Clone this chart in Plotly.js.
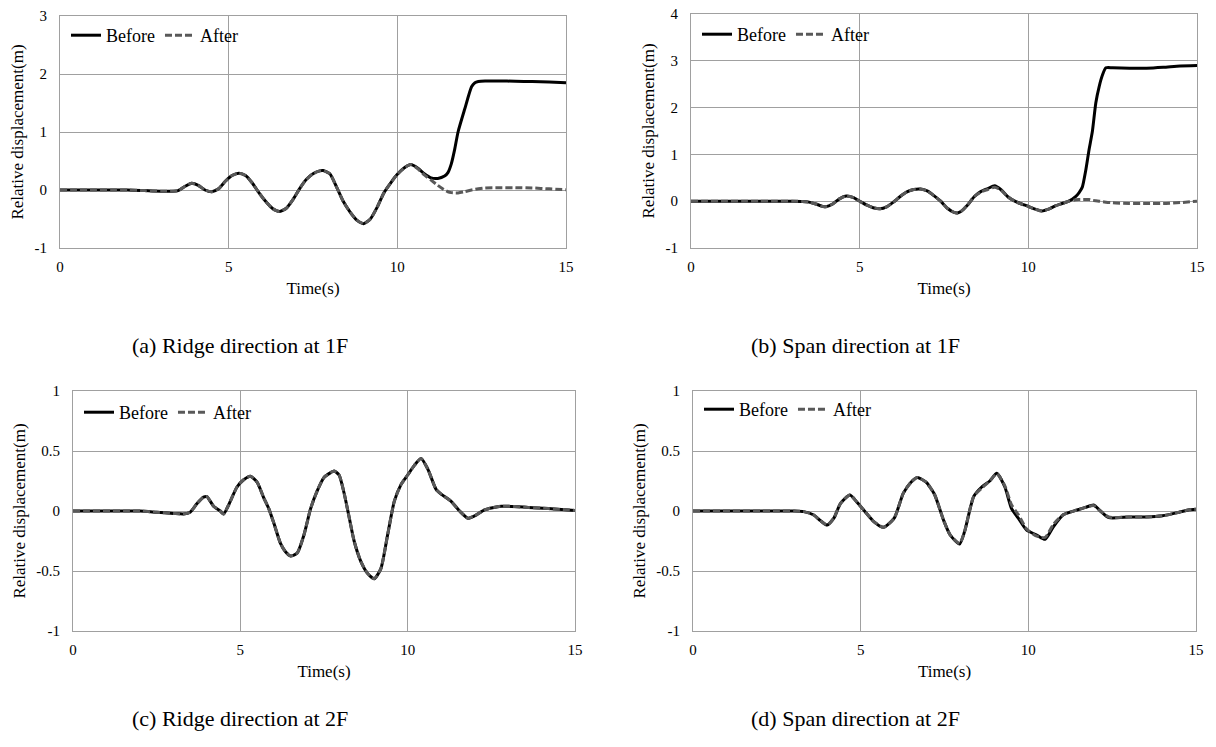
<!DOCTYPE html>
<html>
<head>
<meta charset="utf-8">
<script src="https://cdn.plot.ly/plotly-3.0.1.min.js"></script>
<style>html,body{margin:0;padding:0;background:#fff;}#chart{width:1216px;height:747px;}</style>
</head>
<body>
<div id="chart"></div>
<script>
// ---------- data ----------
const seriesNames = ["Before", "After"];
const captions = ["(a) Ridge direction at 1F", "(b) Span direction at 1F", "(c) Ridge direction at 2F", "(d) Span direction at 2F"];

// (a) Ridge direction at 1F
const tA = [0,0.5,1,1.5,2,2.5,3,3.3,3.5,3.7,3.9,4.1,4.3,4.5,4.7,4.9,5.1,5.3,5.5,5.7,5.9,6.1,6.3,6.5,6.7,6.9,7.1,7.3,7.5,7.7,7.8,8.0,8.2,8.4,8.6,8.8,9.0,9.2,9.4,9.6,9.8,10.0,10.2,10.4,10.6,10.8,11.0,11.2,11.4,11.5,11.6,11.7,11.8,12.0,12.2,12.3,12.4,12.6,13,13.5,14,14.5,15];
const beforeA = [0,0,0,0,0,-0.01,-0.02,-0.02,-0.01,0.06,0.115,0.08,0.0,-0.03,0.02,0.15,0.25,0.29,0.25,0.12,-0.05,-0.2,-0.32,-0.37,-0.32,-0.17,0.02,0.18,0.28,0.33,0.335,0.28,0.05,-0.2,-0.38,-0.52,-0.58,-0.5,-0.3,-0.05,0.12,0.27,0.38,0.44,0.38,0.28,0.21,0.2,0.24,0.3,0.45,0.7,1.0,1.4,1.78,1.85,1.87,1.88,1.88,1.875,1.87,1.86,1.85];
const afterA  = [0,0,0,0,0,-0.01,-0.02,-0.02,-0.01,0.06,0.115,0.08,0.0,-0.03,0.02,0.15,0.25,0.29,0.25,0.12,-0.05,-0.2,-0.32,-0.37,-0.32,-0.17,0.02,0.18,0.28,0.33,0.335,0.28,0.05,-0.2,-0.38,-0.52,-0.58,-0.5,-0.3,-0.05,0.12,0.27,0.38,0.44,0.37,0.26,0.17,0.08,0.0,-0.03,-0.045,-0.05,-0.05,-0.03,0.0,0.01,0.02,0.035,0.04,0.04,0.035,0.02,0.005];

// (b) Span direction at 1F
const tB = [0,0.5,1,1.5,2,2.5,3,3.3,3.5,3.7,3.9,4.0,4.2,4.4,4.6,4.8,5.0,5.2,5.4,5.6,5.8,6.0,6.2,6.4,6.6,6.8,7.0,7.2,7.4,7.6,7.8,7.9,8.0,8.2,8.4,8.6,8.8,9.0,9.2,9.4,9.6,9.8,10.0,10.2,10.4,10.6,10.8,11.0,11.2,11.4,11.5,11.6,11.7,11.8,11.9,12.0,12.1,12.2,12.3,12.5,13,13.5,14,14.5,15];
const beforeB = [0,0,0,0,0,0,0,-0.005,-0.02,-0.06,-0.11,-0.12,-0.06,0.05,0.11,0.08,0.0,-0.08,-0.14,-0.16,-0.12,-0.02,0.1,0.2,0.25,0.26,0.22,0.12,0.0,-0.15,-0.24,-0.25,-0.22,-0.08,0.1,0.21,0.27,0.33,0.24,0.09,0.0,-0.06,-0.11,-0.17,-0.21,-0.17,-0.1,-0.05,0.0,0.1,0.18,0.3,0.65,1.1,1.5,2.1,2.45,2.7,2.85,2.85,2.84,2.84,2.86,2.89,2.9];
const afterB  = [0,0,0,0,0,0,0,-0.005,-0.02,-0.06,-0.11,-0.12,-0.06,0.05,0.11,0.08,0.0,-0.08,-0.14,-0.16,-0.12,-0.02,0.1,0.2,0.25,0.26,0.22,0.12,0.0,-0.15,-0.24,-0.25,-0.22,-0.08,0.1,0.2,0.25,0.3,0.23,0.09,0.0,-0.06,-0.11,-0.17,-0.21,-0.17,-0.1,-0.05,0.0,0.03,0.035,0.035,0.035,0.035,0.02,0.01,0.0,-0.01,-0.02,-0.035,-0.05,-0.05,-0.05,-0.03,0.0];

// (c) Ridge direction at 2F
const tC = [0,0.5,1,1.5,2,2.5,3,3.3,3.5,3.7,3.9,4.0,4.2,4.4,4.5,4.65,4.9,5.1,5.3,5.5,5.7,5.85,6.0,6.2,6.35,6.5,6.7,6.9,7.1,7.3,7.5,7.7,7.8,7.95,8.1,8.25,8.4,8.6,8.8,9.0,9.2,9.4,9.6,9.8,10.0,10.2,10.4,10.6,10.85,11.0,11.3,11.55,11.8,12.0,12.3,12.8,13.6,14.2,15];
const beforeC = [0,0,0,0,0,-0.01,-0.02,-0.025,-0.01,0.06,0.115,0.12,0.04,0.0,-0.025,0.05,0.2,0.26,0.29,0.24,0.11,0.02,-0.1,-0.27,-0.34,-0.375,-0.35,-0.2,0.02,0.17,0.28,0.32,0.334,0.3,0.15,-0.05,-0.25,-0.42,-0.52,-0.565,-0.48,-0.2,0.08,0.22,0.3,0.38,0.437,0.35,0.18,0.14,0.08,0.0,-0.06,-0.04,0.01,0.04,0.03,0.02,0.005];
const afterC  = [0,0,0,0,0,-0.01,-0.02,-0.025,-0.01,0.06,0.115,0.12,0.04,0.0,-0.025,0.05,0.2,0.26,0.29,0.24,0.11,0.02,-0.1,-0.27,-0.34,-0.375,-0.35,-0.2,0.02,0.17,0.28,0.32,0.334,0.3,0.15,-0.05,-0.25,-0.42,-0.52,-0.565,-0.48,-0.2,0.08,0.22,0.3,0.38,0.437,0.35,0.18,0.14,0.08,0.0,-0.06,-0.04,0.01,0.04,0.03,0.02,0.005];

// (d) Span direction at 2F
const tD = [0,0.5,1,1.5,2,2.5,3,3.3,3.6,3.8,4.0,4.2,4.4,4.68,4.9,5.1,5.4,5.68,6.0,6.27,6.5,6.69,6.95,7.2,7.47,7.67,7.95,8.1,8.37,8.61,8.85,9.06,9.3,9.5,9.7,9.95,10.25,10.5,10.75,11.05,11.45,11.7,11.95,12.15,12.4,13,13.5,14,14.5,14.8,15];
const beforeD = [0,0,0,0,0,0,0,-0.005,-0.033,-0.08,-0.117,-0.06,0.064,0.133,0.07,0.005,-0.09,-0.136,-0.06,0.147,0.24,0.28,0.24,0.14,-0.075,-0.2,-0.275,-0.17,0.12,0.2,0.25,0.314,0.2,0.02,-0.06,-0.16,-0.2,-0.236,-0.13,-0.03,0.008,0.03,0.05,0.0,-0.055,-0.05,-0.05,-0.04,-0.01,0.01,0.015];
const afterD  = [0,0,0,0,0,0,0,-0.005,-0.033,-0.08,-0.117,-0.06,0.064,0.133,0.07,0.005,-0.09,-0.136,-0.06,0.147,0.24,0.28,0.24,0.14,-0.075,-0.2,-0.27,-0.17,0.12,0.19,0.25,0.31,0.21,0.05,-0.03,-0.15,-0.21,-0.22,-0.11,-0.03,0.008,0.03,0.045,0.0,-0.05,-0.05,-0.05,-0.04,-0.01,0.01,0.015];

const xTicks = [0,5,10,15];
const xTickText = ["0","5","10","15"];
const yTicksA = [-1,0,1,2,3];       const yTickTextA = ["-1","0","1","2","3"];
const yTicksB = [-1,0,1,2,3,4];     const yTickTextB = ["-1","0","1","2","3","4"];
const yTicksC = [-1,-0.5,0,0.5,1];  const yTickTextC = ["-1","-0.5","0","0.5","1"];

// ---------- layout helpers ----------
const W = 1216, H = 747;
const FONT = "Liberation Serif, serif";
function px2x(p){return p/W;}
function px2y(p){return 1-p/H;}

const panels = [
  {t:tA, b:beforeA, a:afterA, yt:yTicksA, ytt:yTickTextA, xd:[60,566], yd:[16,248], cap:[240,345], leg:[66,17]},
  {t:tB, b:beforeB, a:afterB, yt:yTicksB, ytt:yTickTextB, xd:[691,1197], yd:[14,248], cap:[855,345], leg:[697,16]},
  {t:tC, b:beforeC, a:afterC, yt:yTicksC, ytt:yTickTextC, xd:[73,575], yd:[391,631], cap:[240,718], leg:[79,394]},
  {t:tD, b:beforeD, a:afterD, yt:yTicksC, ytt:yTickTextC, xd:[693,1196], yd:[391,631], cap:[855,718], leg:[699,391]}
];

const data = [];
const layout = {
  width: W, height: H,
  margin: {l:0, r:0, t:0, b:0},
  paper_bgcolor: "#fff", plot_bgcolor: "#fff",
  font: {family: FONT, size: 14, color: "#000"},
  annotations: []
};

panels.forEach((p, i) => {
  const n = i + 1;
  const xa = n === 1 ? "x" : "x" + n;
  const ya = n === 1 ? "y" : "y" + n;
  const lg = n === 1 ? "legend" : "legend" + n;
  data.push({x:p.t, y:p.b, xaxis:xa, yaxis:ya, name:seriesNames[0], type:"scatter", mode:"lines",
    line:{color:"#000", width:3, shape:"spline", smoothing:0.6}, legend:lg});
  data.push({x:p.t, y:p.a, xaxis:xa, yaxis:ya, name:seriesNames[1], type:"scatter", mode:"lines",
    line:{color:"#595959", width:3, dash:"7px,3px", shape:"spline", smoothing:0.6}, legend:lg});

  const axCommon = {showgrid:true, gridcolor:"#a0a0a0", gridwidth:1, zeroline:false,
    showline:true, linecolor:"#a0a0a0", linewidth:1, mirror:true,
    ticks:"outside", tickcolor:"rgba(0,0,0,0)",
    tickfont:{family:FONT, size:15, color:"#000"}, tickmode:"array", fixedrange:true};
  layout["xaxis" + (n===1?"":n)] = Object.assign({}, axCommon, {
    domain:[px2x(p.xd[0]), px2x(p.xd[1])], anchor:ya, range:[0,15], ticklen:5,
    tickvals:xTicks, ticktext:xTickText,
    title:{text:"Time(s)", font:{family:FONT, size:17, color:"#000"}, standoff:8}
  });
  layout["yaxis" + (n===1?"":n)] = Object.assign({}, axCommon, {
    domain:[px2y(p.yd[1]), px2y(p.yd[0])], anchor:xa, range:[p.yt[0], p.yt[p.yt.length-1]], ticklen:9,
    tickvals:p.yt, ticktext:p.ytt,
    title:{text:"Relative displacement(m)", font:{family:FONT, size:17, color:"#000"}, standoff:6}
  });
  layout[lg] = {x:px2x(p.leg[0]), y:px2y(p.leg[1]), xanchor:"left", yanchor:"top", xref:"paper", yref:"paper",
    orientation:"h", bgcolor:"rgba(0,0,0,0)", font:{family:FONT, size:18, color:"#000"},
    itemwidth:30, tracegroupgap:0, traceorder:"normal"};
  layout.annotations.push({text:captions[i], xref:"paper", yref:"paper", x:px2x(p.cap[0]), y:px2y(p.cap[1]),
    xanchor:"center", yanchor:"middle", showarrow:false, font:{family:FONT, size:22, color:"#000"}});
});

Plotly.newPlot("chart", data, layout, {displayModeBar:false, staticPlot:true});
</script>
</body>
</html>
